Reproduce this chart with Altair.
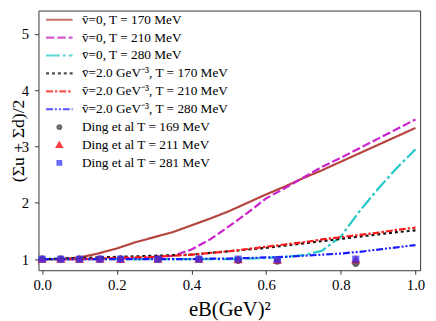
import altair as alt
import pandas as pd

# ---------------- data ----------------
eB = [0.00, 0.05, 0.10, 0.15, 0.20, 0.25, 0.30, 0.35, 0.40, 0.45, 0.50,
      0.55, 0.60, 0.65, 0.70, 0.75, 0.80, 0.85, 0.90, 0.95, 1.00]

v0_T170 = [1.00, 1.00, 1.03, 1.10, 1.19, 1.30, 1.39, 1.48, 1.60, 1.72, 1.85,
           2.00, 2.15, 2.29, 2.44, 2.58, 2.73, 2.88, 3.03, 3.18, 3.33]
v0_T210 = [1.00, 1.00, 1.00, 1.00, 1.01, 1.02, 1.03, 1.06, 1.17, 1.35, 1.58,
           1.82, 2.08, 2.26, 2.45, 2.64, 2.80, 2.97, 3.14, 3.31, 3.48]
v0_T280 = [1.00, 1.00, 1.00, 1.00, 1.00, 1.00, 1.00, 1.00, 1.00, 1.00, 1.00,
           1.01, 1.02, 1.04, 1.07, 1.15, 1.40, 1.85, 2.25, 2.62, 2.95]
v2_T170 = [1.00, 1.01, 1.02, 1.03, 1.04, 1.05, 1.06, 1.07, 1.08, 1.11, 1.14,
           1.17, 1.20, 1.24, 1.28, 1.32, 1.36, 1.40, 1.44, 1.48, 1.51]
v2_T210 = [1.00, 1.00, 1.00, 1.01, 1.02, 1.03, 1.04, 1.06, 1.08, 1.11, 1.14,
           1.18, 1.22, 1.26, 1.30, 1.35, 1.39, 1.43, 1.47, 1.52, 1.56]
v2_T280 = [1.00, 1.00, 1.00, 1.00, 1.00, 1.00, 1.00, 1.00, 1.00, 1.01, 1.01,
           1.02, 1.03, 1.04, 1.06, 1.08, 1.10, 1.13, 1.17, 1.21, 1.25]

ding_eB = [0.0, 0.05, 0.10, 0.155, 0.21, 0.31, 0.42, 0.525, 0.63, 0.84]
ding_T169 = [1.00, 1.00, 1.00, 1.00, 1.00, 1.00, 1.00, 0.98, 0.965, 0.925]
ding_T211 = [1.00, 1.00, 1.00, 1.00, 1.00, 1.00, 1.00, 0.99, 0.98, 0.99]
ding_T281 = [1.00, 1.00, 1.00, 1.00, 1.00, 1.00, 1.00, 1.00, 0.99, 1.00]

labels = [
    "v̄=0,  T = 170 MeV",
    "v̄=0,  T = 210 MeV",
    "v̄=0,  T = 280 MeV",
    "v̄=2.0 GeV⁻³,  T = 170 MeV",
    "v̄=2.0 GeV⁻³,  T = 210 MeV",
    "v̄=2.0 GeV⁻³,  T = 280 MeV",
    "Ding et al  T = 169 MeV",
    "Ding et al  T = 211 MeV",
    "Ding et al  T = 281 MeV",
]
colors = ["#b5443f", "#cc22cc", "#22c8c8", "#111111", "#ff1a1a", "#1a1aff",
          "#333333", "#ff0000", "#3333ff"]
dashes = [[1, 0], [8.5, 3], [14, 3, 3, 3], [3, 3], [7, 2, 2.5, 2],
          [7, 2, 2, 2, 2, 2], [1, 0], [1, 0], [1, 0]]
LINE = "M-2,0H2"
shapes = [LINE, LINE, LINE, LINE, LINE, LINE,
          "M0.28,0A0.28,0.28,0,1,1,-0.28,0A0.28,0.28,0,1,1,0.28,0Z",
          "M0,-0.33L0.36,0.27L-0.36,0.27Z",
          "M-0.27,-0.27H0.27V0.27H-0.27Z"]

curves = [v0_T170, v0_T210, v0_T280, v2_T170, v2_T210, v2_T280]
ding = [ding_T169, ding_T211, ding_T281]

lines_df = pd.DataFrame(
    [{"x": x, "y": y, "label": labels[i]}
     for i, ys in enumerate(curves) for x, y in zip(eB, ys)]
)
pts_df = pd.DataFrame(
    [{"x": x, "y": y, "label": labels[6 + i]}
     for i, ys in enumerate(ding) for x, y in zip(ding_eB, ys)]
)

FONT = "Liberation Serif"

xscale = alt.Scale(domain=[-0.0097, 1.0124], nice=False, zero=False)
yscale = alt.Scale(domain=[0.803, 5.414], nice=False, zero=False)

xaxis = alt.Axis(values=[0, 0.2, 0.4, 0.6, 0.8, 1.0], format=".1f",
                 title="eB(GeV)²", titlePadding=6, titleFontSize=21)
yaxis = alt.Axis(values=[1, 2, 3, 4, 5], format="d",
                 title="(Σu + Σd)/2", titlePadding=-6, titleFontSize=18)

stroke_enc = alt.Stroke("label:N", scale=alt.Scale(domain=labels, range=colors), title=None)
dash_enc = alt.StrokeDash("label:N", scale=alt.Scale(domain=labels, range=dashes), title=None)

line_layer = alt.Chart(lines_df).mark_line(strokeWidth=2.2).encode(
    x=alt.X("x:Q", scale=xscale, axis=xaxis),
    y=alt.Y("y:Q", scale=yscale, axis=yaxis),
    stroke=stroke_enc,
    strokeDash=dash_enc,
)

pt_layer = alt.Chart(pts_df).mark_point(filled=True, size=718, opacity=0.75).encode(
    x=alt.X("x:Q", scale=xscale),
    y=alt.Y("y:Q", scale=yscale),
    fill=alt.Fill("label:N", scale=alt.Scale(domain=labels, range=colors), title=None),
    shape=alt.Shape("label:N", scale=alt.Scale(domain=labels, range=shapes), title=None),
)

chart = alt.layer(line_layer, pt_layer).properties(
    width=388, height=264,
    autosize=alt.AutoSizeParams(type="none"),
    padding={"left": 31, "top": 0, "right": 8, "bottom": 49},
).configure_view(
    stroke="#333333", strokeWidth=1
).configure_axis(
    grid=False, domain=False, tickSize=4, tickColor="#333333",
    labelFont=FONT, labelFontSize=15, labelColor="black",
    titleFont=FONT, titleColor="black", titleFontWeight="normal",
).configure_axisX(
    labelPadding=4,
).configure_axisY(
    labelPadding=6,
).configure_legend(
    orient="none", legendX=7.7, legendY=1.3, padding=0, rowPadding=3.2,
    labelOffset=15, symbolOffset=5.5, symbolSize=182, symbolStrokeWidth=2.2,
    labelFont=FONT, labelFontSize=13.5, labelLimit=0, labelColor="black",
)

chart.save("out.html", embed_options={"renderer": "svg", "actions": False})
